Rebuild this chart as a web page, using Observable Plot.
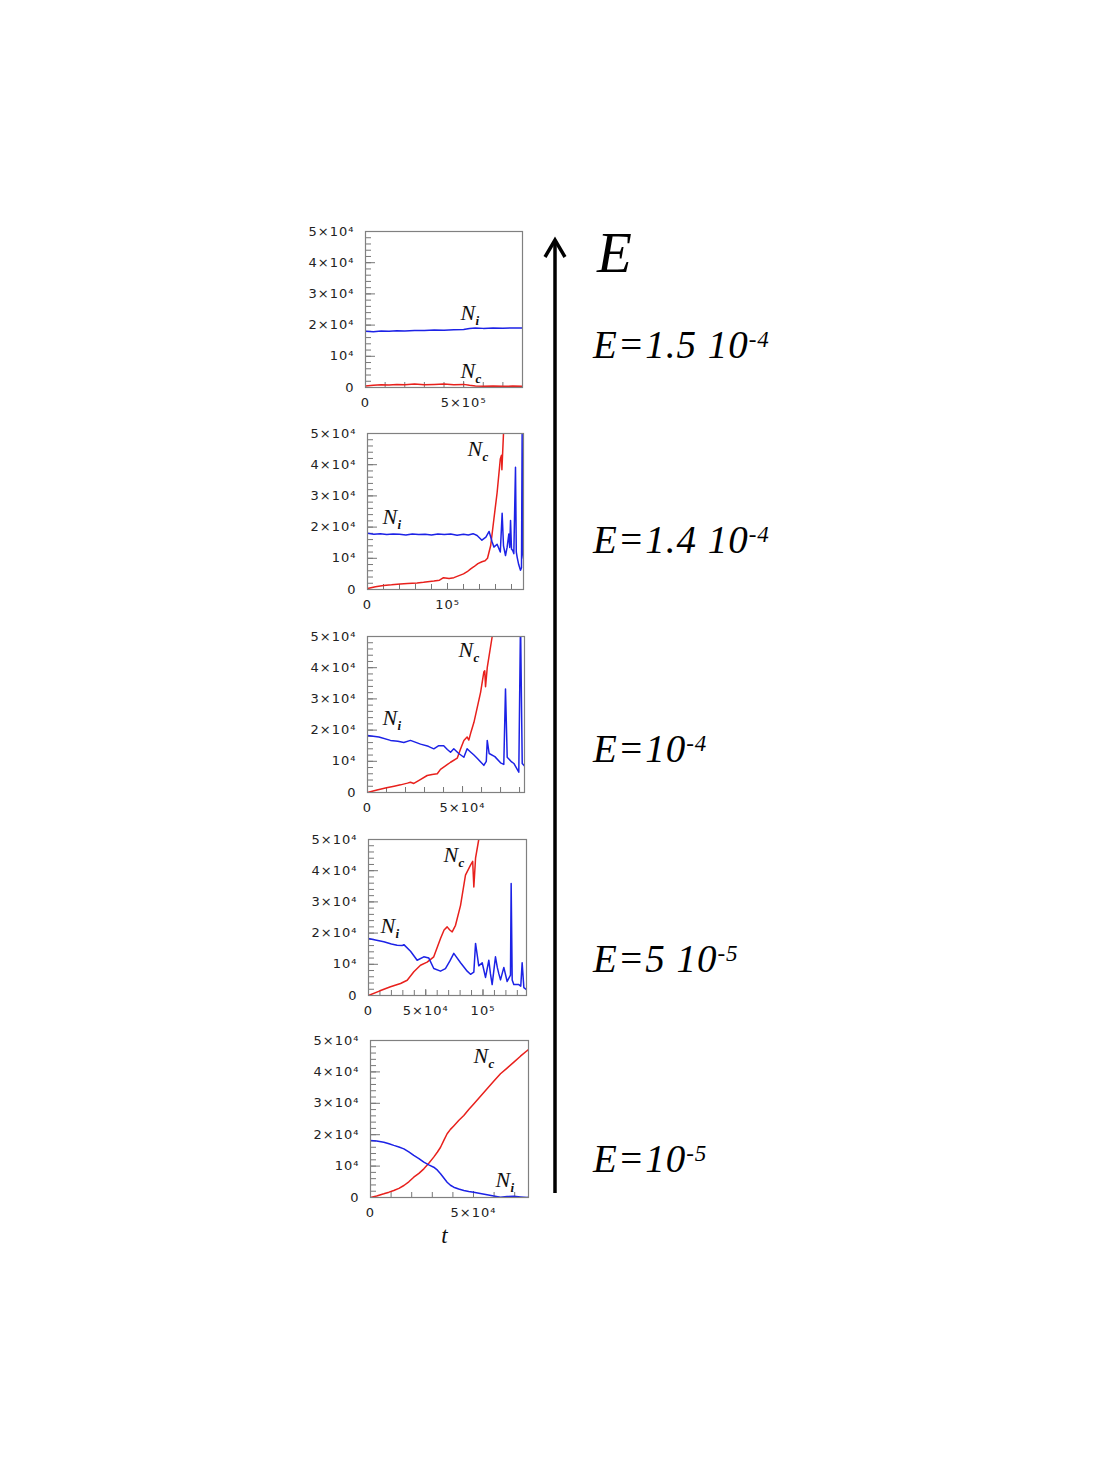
<!DOCTYPE html>
<html><head><meta charset="utf-8">
<script src="https://cdn.jsdelivr.net/npm/d3@7"></script>
<script src="https://cdn.jsdelivr.net/npm/@observablehq/plot@0.6"></script>
<style>
body{margin:0;background:#fff;}
#page{position:relative;width:1099px;height:1465px;overflow:hidden;background:#fff;}
.panel{position:absolute;}
.panel svg{overflow:visible;}
.panel g[aria-label="y-axis tick label"] text,
.panel g[aria-label="x-axis tick label"] text{letter-spacing:1px;}
#overlay{position:absolute;left:0;top:0;}
</style></head><body><div id="page"></div>
<script>
// ---------------- DATA ----------------
const eLabels = ["1.5 10", "1.4 10", "10", "5 10", "10"];
const eExponents = ["-4", "-4", "-4", "-5", "-5"];
const yTicks = [0, 10000, 20000, 30000, 40000, 50000];
const xMaxes = [8e5, 1.95e5, 8.26e4, 1.38e5, 7.67e4];
const xTickLists = [[0, 5e5], [0, 1e5], [0, 5e4], [0, 5e4, 1e5], [0, 5e4]];
const xMinorSteps = [1e5, 2e4, 1e4, 1e4, 1e4];

// E = 1.5 10^-4
const tNiA = [0, 4e4, 8e4, 1.2e5, 1.6e5, 2e5, 2.5e5, 3e5, 3.5e5, 4e5, 4.5e5, 5e5, 5.3e5, 5.6e5, 6e5, 6.5e5, 7e5, 7.5e5, 8e5];
const NiA  = [18000, 17900, 18100, 18000, 18200, 18100, 18300, 18250, 18400, 18350, 18500, 18600, 18900, 19100, 18950, 19050, 19000, 19100, 19050];
const tNcA = [0, 4e4, 8e4, 1.2e5, 1.6e5, 2e5, 2.5e5, 3e5, 3.5e5, 4e5, 4.5e5, 5e5, 5.3e5, 5.6e5, 6e5, 6.5e5, 7e5, 7.5e5, 8e5];
const NcA  = [500, 700, 900, 800, 1000, 900, 1100, 900, 1000, 1100, 900, 1000, 700, 500, 400, 500, 400, 450, 400];

// E = 1.4 10^-4
const tNiB = [0, 8e3, 1.6e4, 2.4e4, 3.2e4, 4e4, 4.8e4, 5.6e4, 6.4e4, 7.2e4, 8e4, 8.8e4, 9.6e4, 1.04e5, 1.12e5, 1.2e5, 1.26e5, 1.32e5, 1.37e5, 1.43e5, 1.48e5, 1.52e5, 1.555e5, 1.58e5, 1.62e5, 1.66e5, 1.683e5, 1.7e5, 1.725e5, 1.745e5, 1.767e5, 1.778e5, 1.788e5, 1.8e5, 1.815e5, 1.829e5, 1.85e5, 1.86e5, 1.871e5, 1.89e5, 1.9125e5, 1.925e5, 1.933e5, 1.94e5, 1.95e5];
const NiB  = [18000, 17700, 17900, 17600, 17800, 17700, 17500, 17800, 17600, 17700, 17500, 17800, 17600, 17800, 17400, 17700, 17500, 17900, 17300, 15800, 16800, 18600, 15500, 13600, 14500, 12000, 24400, 14000, 10900, 13500, 17800, 13500, 22100, 13000, 12500, 11500, 39200, 12000, 10300, 8000, 6200, 7000, 50000, 12000, 10000];
const tNcB = [0, 1e4, 2e4, 3e4, 4.1e4, 5e4, 6.2e4, 7e4, 8.3e4, 9e4, 9.5e4, 1.02e5, 1.08e5, 1.16e5, 1.2e5, 1.246e5, 1.29e5, 1.33e5, 1.38e5, 1.43e5, 1.47e5, 1.5e5, 1.54e5, 1.58e5, 1.62e5, 1.66e5, 1.675e5, 1.68e5, 1.7e5, 1.72e5];
const NcB  = [300, 900, 1300, 1500, 1800, 1900, 2100, 2300, 2700, 3000, 3800, 3500, 3800, 4600, 5000, 5700, 6600, 7300, 8300, 8900, 9200, 10000, 14100, 22600, 31000, 41800, 43000, 38400, 50000, 56000];

// E = 10^-4
const tNiC = [0, 6e3, 1.21e4, 1.6e4, 1.91e4, 2.26e4, 2.79e4, 3.2e4, 3.49e4, 3.75e4, 4.01e4, 4.2e4, 4.37e4, 4.54e4, 4.8e4, 5.07e4, 5.24e4, 5.42e4, 5.6e4, 5.77e4, 6.12e4, 6.25e4, 6.3e4, 6.4e4, 6.7e4, 7e4, 7.17e4, 7.26e4, 7.35e4, 7.55e4, 7.7e4, 7.96e4, 8.05e4, 8.14e4, 8.26e4];
const NiC  = [18300, 17800, 16700, 16400, 16000, 16700, 15500, 14800, 14000, 15000, 15000, 13800, 12900, 14000, 12500, 11300, 14000, 13000, 12000, 11000, 8700, 10000, 16700, 12500, 11500, 9500, 9000, 33200, 11300, 10000, 9300, 6500, 55000, 9300, 8500];
const tNcC = [0, 5e3, 1e4, 1.4e4, 1.74e4, 2.1e4, 2.26e4, 2.44e4, 2.8e4, 3.14e4, 3.4e4, 3.67e4, 3.84e4, 4.1e4, 4.37e4, 4.72e4, 4.9e4, 5.07e4, 5.24e4, 5.33e4, 5.45e4, 5.6e4, 5.95e4, 6.12e4, 6.17e4, 6.21e4, 6.3e4, 6.56e4, 6.7e4];
const NcC  = [0, 800, 1500, 2000, 2450, 3000, 3300, 2900, 4200, 5450, 5800, 6000, 7400, 8500, 9700, 11000, 14000, 16700, 17800, 16800, 19500, 22500, 32100, 38600, 39000, 33900, 40000, 50000, 55000];

// E = 5 10^-5
const tNiD = [0, 6e3, 1.34e4, 2e4, 2.5e4, 2.94e4, 3.09e4, 3.67e4, 4.25e4, 4.83e4, 5.27e4, 5.7e4, 6.29e4, 6.72e4, 7.1e4, 7.45e4, 8.04e4, 8.62e4, 8.91e4, 9.2e4, 9.35e4, 9.63e4, 9.93e4, 1.022e5, 1.051e5, 1.065e5, 1.08e5, 1.109e5, 1.125e5, 1.138e5, 1.153e5, 1.182e5, 1.211e5, 1.24e5, 1.246e5, 1.255e5, 1.269e5, 1.313e5, 1.33e5, 1.342e5, 1.357e5, 1.386e5];
const NiD  = [18300, 17800, 17200, 16500, 16100, 16000, 16300, 14200, 11300, 12400, 12000, 8650, 7800, 8600, 11000, 13500, 10500, 7800, 6800, 7500, 16700, 9500, 10500, 5800, 11300, 7000, 3500, 12400, 9000, 7000, 5000, 9000, 4500, 6500, 35900, 5000, 3500, 3500, 3000, 10500, 2500, 1700];
const tNcD = [0, 1e4, 1.92e4, 2.8e4, 3.38e4, 3.96e4, 4.54e4, 5.12e4, 5.7e4, 6.29e4, 6.6e4, 6.87e4, 7.1e4, 7.31e4, 7.6e4, 8.04e4, 8.47e4, 8.91e4, 9.1e4, 9.2e4, 9.35e4, 9.63e4, 9.8e4];
const NcD  = [0, 1500, 2780, 3850, 4900, 7600, 9700, 10700, 12400, 18270, 21000, 22000, 21000, 20400, 22500, 28900, 38600, 41800, 43000, 34800, 44000, 50000, 55000];

// E = 10^-5
const tNiE = [0, 3000, 6470, 9000, 11300, 13800, 16200, 18600, 21000, 23500, 25900, 28300, 30700, 32500, 34000, 35600, 37200, 38800, 40400, 42800, 45300, 47700, 50100, 53300, 56600, 59800, 63100, 66300, 69600, 72800, 76100, 76700];
const NiE  = [18150, 18000, 17600, 17100, 16600, 16100, 15500, 14500, 13400, 12400, 11240, 10400, 9650, 8700, 7550, 6200, 4870, 3900, 3280, 2700, 2230, 1900, 1700, 1300, 900, 500, 100, 300, 400, 200, 0, 100];
const tNcE = [0, 3000, 6470, 9000, 11300, 13800, 16200, 18600, 21000, 23500, 25900, 28300, 30700, 32500, 34000, 35600, 37200, 38800, 40400, 42800, 45300, 47700, 50100, 53300, 56600, 59800, 63100, 66300, 69600, 72800, 76100, 76700];
const NcE  = [0, 500, 1170, 1700, 2230, 2900, 3820, 5000, 6470, 7700, 9130, 10900, 12850, 14500, 16000, 18200, 20300, 21700, 22800, 24500, 26100, 28000, 29800, 32200, 34600, 37000, 39400, 41200, 43100, 45000, 46800, 47100];

// curve-label anchors (data coordinates: t, N)
const niLabelT = [4.84e5, 1.875e4, 7.9e3, 1.05e4, 6.07e4];
const niLabelN = [21500, 21000, 21500, 19900, 3300];
const ncLabelT = [4.84e5, 1.25e5, 4.79e4, 6.55e4, 5.0e4];
const ncLabelN = [2900, 42900, 43400, 42900, 42700];

// ---------------- LAYOUT / STYLE ----------------
const RED = "#e8201c", BLUE = "#1c22e6";
const frameLeft = [365, 367, 367, 368, 370];
const frameTop  = [231, 433, 636, 839, 1040];
const frameW    = [157, 156, 157, 158, 158];
const frameH    = [156, 156, 156, 156, 157];
const labelBaselines = [358, 553, 762, 972, 1172];
const ML = 80, MR = 10, MT = 10, MB = 30;

const SUP = "⁰¹²³⁴⁵⁶⁷⁸⁹";
function fmt(v) {
  if (v === 0) return "0";
  const e = Math.floor(Math.log10(v) + 1e-9);
  const m = Math.round(v / 10 ** e);
  const s = String(e).split("").map(c => SUP[+c]).join("");
  return (m === 1 ? "" : m + "×") + "10" + s;
}
const rows = (t, n) => t.map((x, i) => ({t: x, n: n[i]}));

const series = [
  [rows(tNiA, NiA), rows(tNcA, NcA)],
  [rows(tNiB, NiB), rows(tNcB, NcB)],
  [rows(tNiC, NiC), rows(tNcC, NcC)],
  [rows(tNiD, NiD), rows(tNcD, NcD)],
  [rows(tNiE, NiE), rows(tNcE, NcE)]
];

const page = document.getElementById("page");
const serif = "'Liberation Serif', 'Times New Roman', serif";

series.forEach(([ni, nc], k) => {
  const last = k === series.length - 1;
  const mb = last ? 60 : MB;
  const xmax = xMaxes[k];
  const minor = d3.range(0, xmax + 1, xMinorSteps[k]);
  const labelMarks = (T, N, sub) => [
    Plot.text([{t: T, n: N}], {x: "t", y: "n", text: () => "N", textAnchor: "start", lineAnchor: "bottom",
      fontFamily: serif, fontStyle: "italic", fontSize: 22, fill: "#111"}),
    Plot.text([{t: T, n: N}], {x: "t", y: "n", text: () => sub, textAnchor: "start", lineAnchor: "bottom",
      dx: 15, dy: 5, fontFamily: serif, fontStyle: "italic", fontWeight: "bold", fontSize: 13, fill: "#111"})
  ];
  const marks = [
    Plot.axisY({ticks: d3.range(0, 50001, 2000), tickSize: -6, tickFormat: () => "", stroke: "#777", label: null}),
    Plot.axisY({ticks: yTicks, tickSize: -10, tickPadding: 21, tickFormat: fmt, stroke: "#777", fill: "#222", label: null}),
    Plot.axisX({ticks: minor, tickSize: -5, tickFormat: () => "", stroke: "#777", label: null}),
    Plot.axisX({ticks: xTickLists[k], tickSize: -6, tickPadding: 16, tickFormat: fmt, stroke: "#777", fill: "#222", label: null}),
    Plot.line(nc, {x: "t", y: "n", stroke: RED, strokeWidth: 1.5, clip: true}),
    Plot.line(ni, {x: "t", y: "n", stroke: BLUE, strokeWidth: 1.5, clip: true}),
    Plot.frame({stroke: "#808080", strokeWidth: 1.2}),
    ...labelMarks(niLabelT[k], niLabelN[k], "i"),
    ...labelMarks(ncLabelT[k], ncLabelN[k], "c")
  ];
  if (last) marks.push(Plot.text(["t"], {frameAnchor: "bottom", text: d => d, dy: 45, dx: -5, lineAnchor: "bottom",
    fontFamily: serif, fontStyle: "italic", fontSize: 23, fill: "#111"}));
  const svg = Plot.plot({
    width: ML + frameW[k] + MR,
    height: MT + frameH[k] + mb,
    marginLeft: ML, marginRight: MR, marginTop: MT, marginBottom: mb,
    x: {domain: [0, xmax], label: null},
    y: {domain: [0, 50000], label: null},
    style: {fontFamily: "'DejaVu Sans', sans-serif", fontSize: "13px", color: "#222", background: "transparent"},
    marks
  });
  const div = document.createElement("div");
  div.className = "panel";
  div.style.left = (frameLeft[k] - ML) + "px";
  div.style.top = (frameTop[k] - MT) + "px";
  div.appendChild(svg);
  page.appendChild(div);
});

// arrow + E labels overlay
const NS = "http://www.w3.org/2000/svg";
const ov = d3.select(page).append("svg").attr("id", "overlay").attr("xmlns", NS)
  .attr("width", 1099).attr("height", 1465);
ov.append("line").attr("x1", 555).attr("x2", 555).attr("y1", 1193).attr("y2", 241)
  .attr("stroke", "#000").attr("stroke-width", 3.5);
ov.append("polyline").attr("points", "545,257 555,240 565,257").attr("fill", "none")
  .attr("stroke", "#000").attr("stroke-width", 3.5).attr("stroke-linejoin", "miter");
ov.append("text").attr("x", 597).attr("y", 272).attr("font-family", serif).attr("font-style", "italic")
  .attr("font-size", 57).attr("fill", "#000").text("E");
eLabels.forEach((lab, i) => {
  const t = ov.append("text").attr("x", 593).attr("y", labelBaselines[i]).attr("font-family", serif)
    .attr("font-style", "italic").attr("font-size", 39).attr("fill", "#000").attr("letter-spacing", "1px");
  t.append("tspan").text("E=" + lab);
  t.append("tspan").attr("dy", -11).attr("font-size", 23).text(eExponents[i]);
});
</script></body></html>
